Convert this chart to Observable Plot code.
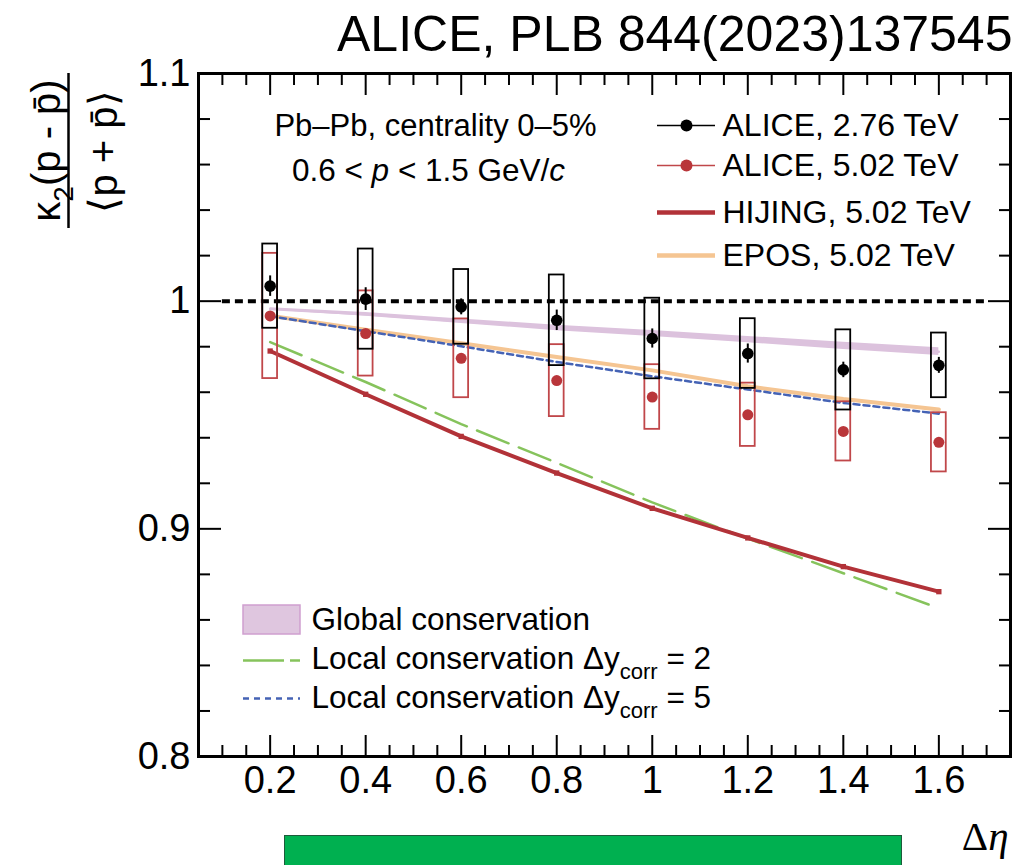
<!DOCTYPE html>
<html><head><meta charset="utf-8">
<script src="https://cdn.jsdelivr.net/npm/d3@7"></script>
<script src="https://cdn.jsdelivr.net/npm/@observablehq/plot@0.6"></script>
<style>
body{margin:0;background:#fff;}
#wrap{position:relative;width:1021px;height:865px;overflow:hidden;background:#fff;}
#greenbar{position:absolute;left:284px;top:835px;width:618px;height:40px;background:#00b050;border:1.5px solid #1d5b3b;box-sizing:border-box;}
</style></head><body><div id="wrap"></div>
<script>
// ---------------- data ----------------
const deltaEta       = [0.2, 0.4, 0.6, 0.8, 1.0, 1.2, 1.4, 1.6];
const alice276       = [1.0066, 1.0009, 0.9975, 0.9916, 0.9836, 0.9770, 0.9698, 0.9718];
const alice276Stat   = [0.0045, 0.0050, 0.0035, 0.0045, 0.0042, 0.0042, 0.0034, 0.0035];
const alice276Sys    = [0.0185, 0.0220, 0.0164, 0.0199, 0.0177, 0.0153, 0.0176, 0.0142];
const alice502       = [0.9935, 0.9858, 0.9749, 0.9651, 0.9579, 0.9501, 0.9428, 0.9380];
const alice502Stat   = [0.0015, 0.0015, 0.0015, 0.0015, 0.0015, 0.0015, 0.0015, 0.0015];
const alice502Sys    = [0.0275, 0.0187, 0.0173, 0.0158, 0.0142, 0.0139, 0.0130, 0.0130];
const hijing502      = [0.9781, 0.9591, 0.9406, 0.9245, 0.9090, 0.8960, 0.8834, 0.8724];
const epos502        = [0.9936, 0.9874, 0.9815, 0.9755, 0.9696, 0.9626, 0.9570, 0.9524];
const globalCons     = [0.9966, 0.9942, 0.9912, 0.9882, 0.9858, 0.9831, 0.9804, 0.9778];
const globalConsHalf = [0.0005, 0.0008, 0.0010, 0.0012, 0.0013, 0.0014, 0.0016, 0.0017];
const localCons2     = [0.9820, 0.9645, 0.9460, 0.9290, 0.9116, 0.8957, 0.8805, 0.8651];
const localCons5     = [0.9934, 0.9868, 0.9802, 0.9733, 0.9670, 0.9612, 0.9553, 0.9506];
const unityRange     = [0.1, 1.7];
const unityValue     = 1;
const xTickValues    = [0.2, 0.4, 0.6, 0.8, 1, 1.2, 1.4, 1.6];
const yTickValues    = [0.8, 0.9, 1, 1.1];
const legendTopLabels    = ["ALICE, 2.76 TeV", "ALICE, 5.02 TeV", "HIJING, 5.02 TeV", "EPOS, 5.02 TeV"];
const legendBottomLabels = ["Global conservation", "Local conservation Δy_{corr} = 2", "Local conservation Δy_{corr} = 5"];
const annotationLines    = ["Pb–Pb, centrality 0–5%", "0.6 < *{p} < 1.5 GeV/*{c}"];
const titleText  = "ALICE, PLB 844(2023)137545";
const xLabelText = "Δ*{η}";
const yLabelNum  = "κ_{2}(p - p\u0304)";
const yLabelDen  = "⟨p + p\u0304⟩";

// ---------------- layout ----------------
const W = 1021, H = 865, M = {l: 198, r: 11, t: 73, b: 109};
const xDomain = [0.05, 1.75], yDomain = [0.8, 1.1];
const X = px => xDomain[0] + (px - M.l) / (W - M.l - M.r) * (xDomain[1] - xDomain[0]);
const Y = py => yDomain[1] - (py - M.t) / (H - M.t - M.b) * (yDomain[1] - yDomain[0]);
const FONT = '"Liberation Sans", Arial, Helvetica, sans-serif';
const C = {red: "#b9363a", redBox: "#c0474a", hijing: "#b23238", epos: "#f5c592", blue: "#4563b5", green: "#86c35c", purple: "#dcc2dd"};
const hw = 0.0155;

const rows = deltaEta.map((x, i) => ({
  x, a276: alice276[i], st276: alice276Stat[i], sy276: alice276Sys[i],
  a502: alice502[i], st502: alice502Stat[i], sy502: alice502Sys[i],
  hij: hijing502[i], epos: epos502[i], g: globalCons[i], gh: globalConsHalf[i],
  l2: localCons2[i], l5: localCons5[i]
}));

const xMinor = d3.range(1, 35).map(i => +(i * 0.05).toFixed(2)).filter(v => !xTickValues.includes(v));
const yMinor = d3.range(0, 16).map(i => +(0.8 + i * 0.02).toFixed(2)).filter(v => !yTickValues.includes(v));

const legTopY = [125, 165, 212, 255];
const legTopStyle = [
  {stroke: "#000", w: 1.5, dot: "#000"},
  {stroke: C.redBox, w: 1.5, dot: C.red},
  {stroke: C.hijing, w: 4.5},
  {stroke: C.epos, w: 4.5}
];

const tickAxes = [];
for (const a of ["bottom", "top"]) {
  tickAxes.push(Plot.axisX(xTickValues, {anchor: a, tickSize: -21, fill: "none", label: null, strokeWidth: 2}));
  tickAxes.push(Plot.axisX(xMinor, {anchor: a, tickSize: -11, fill: "none", label: null, strokeWidth: 2}));
}
for (const a of ["left", "right"]) {
  tickAxes.push(Plot.axisY(yTickValues, {anchor: a, tickSize: -23, fill: "none", label: null, strokeWidth: 2}));
  tickAxes.push(Plot.axisY(yMinor, {anchor: a, tickSize: -12, fill: "none", label: null, strokeWidth: 2}));
}

const chart = Plot.plot({
  width: W, height: H,
  marginLeft: M.l, marginRight: M.r, marginTop: M.t, marginBottom: M.b,
  style: {fontFamily: FONT, background: "white", overflow: "visible"},
  x: {domain: xDomain, axis: null},
  y: {domain: yDomain, axis: null},
  marks: [
    // models
    Plot.line(rows, {x: "x", y: "g", stroke: C.purple, strokeWidth: 2.5}),
    Plot.areaY(rows, {x: "x", y1: d => d.g - d.gh, y2: d => d.g + d.gh, fill: C.purple}),
    Plot.line(rows, {x: "x", y: "epos", stroke: C.epos, strokeWidth: 4}),
    Plot.line(rows, {x: "x", y: "l5", stroke: C.blue, strokeWidth: 2.5, strokeDasharray: "6,4"}),
    Plot.line(rows, {x: "x", y: "l2", stroke: C.green, strokeWidth: 2.5, strokeDasharray: "34,11"}),
    Plot.line(rows, {x: "x", y: "hij", stroke: C.hijing, strokeWidth: 4}),
    Plot.dot(rows, {x: "x", y: "hij", symbol: "square", r: 3, fill: C.hijing}),
    // unity line
    Plot.ruleY([unityValue], {x1: unityRange[0], x2: unityRange[1], stroke: "#000", strokeWidth: 4, strokeDasharray: "8,5"}),
    // systematic boxes
    Plot.rect(rows, {x1: d => d.x - hw, x2: d => d.x + hw, y1: d => d.a502 - d.sy502, y2: d => d.a502 + d.sy502, fill: "none", stroke: C.redBox, strokeWidth: 1.8}),
    Plot.rect(rows, {x1: d => d.x - hw, x2: d => d.x + hw, y1: d => d.a276 - d.sy276, y2: d => d.a276 + d.sy276, fill: "none", stroke: "#000", strokeWidth: 1.8}),
    // stat + points
    Plot.ruleX(rows, {x: "x", y1: d => d.a502 - d.st502, y2: d => d.a502 + d.st502, stroke: C.red, strokeWidth: 2}),
    Plot.dot(rows, {x: "x", y: "a502", r: 5.5, fill: C.red, stroke: "none"}),
    Plot.ruleX(rows, {x: "x", y1: d => d.a276 - d.st276, y2: d => d.a276 + d.st276, stroke: "#000", strokeWidth: 2}),
    Plot.dot(rows, {x: "x", y: "a276", r: 5.8, fill: "#000", stroke: "none"}),
    // frame + axes
    Plot.frame({stroke: "#000", strokeWidth: 3}),
    ...tickAxes,
    Plot.axisX(xTickValues, {anchor: "bottom", tickSize: 0, tickPadding: 10, fontSize: 38, label: null, tickFormat: d => String(d)}),
    Plot.axisY(yTickValues, {anchor: "left", tickSize: 0, tickPadding: 8, fontSize: 38, label: null, tickFormat: d => String(d)}),
    // top-right legend
    ...legendTopLabels.flatMap((lab, i) => {
      const s = legTopStyle[i], y = Y(legTopY[i]);
      const m = [
        Plot.ruleY([y], {x1: X(657), x2: X(715), stroke: s.stroke, strokeWidth: s.w}),
        Plot.text([lab], {x: X(722), y, text: d => d, textAnchor: "start", fontSize: 32})
      ];
      if (s.dot) m.push(Plot.dot([0], {x: X(686), y, r: 6, fill: s.dot, stroke: "none"}));
      return m;
    }),
    // bottom-left legend
    Plot.rect([0], {x1: X(243), x2: X(300), y1: Y(634), y2: Y(605), fill: "#dfc6df", stroke: "#cf9fcf", strokeWidth: 1.5}),
    Plot.ruleY([Y(660)], {x1: X(243), x2: X(300), stroke: C.green, strokeWidth: 2.5, strokeDasharray: "41,6"}),
    Plot.ruleY([Y(698)], {x1: X(243), x2: X(300), stroke: C.blue, strokeWidth: 2.5, strokeDasharray: "6,5"}),
    Plot.text([legendBottomLabels[0]], {x: X(311), y: Y(619), text: d => d, textAnchor: "start", fontSize: 31.5}),
    Plot.text([legendBottomLabels[1]], {x: X(311), y: Y(658), text: d => d, textAnchor: "start", fontSize: 31.5}),
    Plot.text([legendBottomLabels[2]], {x: X(311), y: Y(697), text: d => d, textAnchor: "start", fontSize: 31.5}),
    // annotations
    Plot.text([annotationLines[0]], {x: X(435), y: Y(126), text: d => d, fontSize: 31}),
    Plot.text([annotationLines[1]], {x: X(428), y: Y(170), text: d => d, fontSize: 31.5}),
    // title
    Plot.text([titleText], {x: X(1012), y: Y(34), text: d => d, textAnchor: "end", fontSize: 50}),
    // x label
    Plot.text([xLabelText], {x: X(1008), y: Y(836), text: d => d, textAnchor: "end", fontSize: 41, fontFamily: '"Liberation Serif", "DejaVu Serif", serif'}),
    // y label (fraction)
    Plot.text([yLabelNum], {x: X(47), y: Y(150), text: d => d, rotate: -90, fontSize: 40}),
    Plot.ruleX([X(68)], {y1: Y(73), y2: Y(228), stroke: "#000", strokeWidth: 2.5}),
    Plot.text([yLabelDen], {x: X(104), y: Y(151), text: d => d, rotate: -90, fontSize: 40})
  ]
});

// rich text: _{sub}, *{italic}
function richify(el) {
  const s = el.textContent;
  if (!/[_*]\{/.test(s)) return;
  const fs = parseFloat(getComputedStyle(el).fontSize) || 30;
  const re = /([_*])\{([^}]*)\}/g;
  const parts = []; let last = 0, m;
  while ((m = re.exec(s))) {
    if (m.index > last) parts.push({t: s.slice(last, m.index)});
    parts.push({t: m[2], k: m[1]});
    last = re.lastIndex;
  }
  if (last < s.length) parts.push({t: s.slice(last)});
  el.textContent = "";
  let shifted = 0;
  for (const p of parts) {
    const ts = document.createElementNS("http://www.w3.org/2000/svg", "tspan");
    ts.textContent = p.t;
    if (p.k === "_") {
      const d = 0.32 * fs;
      ts.setAttribute("font-size", (0.7 * fs) + "px");
      ts.setAttribute("dy", d - shifted);
      shifted = d;
    } else {
      if (shifted) { ts.setAttribute("dy", -shifted); shifted = 0; }
      if (p.k === "*") ts.setAttribute("font-style", "italic");
    }
    el.appendChild(ts);
  }
}
const wrap = document.getElementById("wrap");
wrap.appendChild(chart);
d3.select(chart).selectAll("text").each(function() { richify(this); });
const bar = document.createElement("div");
bar.id = "greenbar";
wrap.appendChild(bar);
</script>
</body></html>
